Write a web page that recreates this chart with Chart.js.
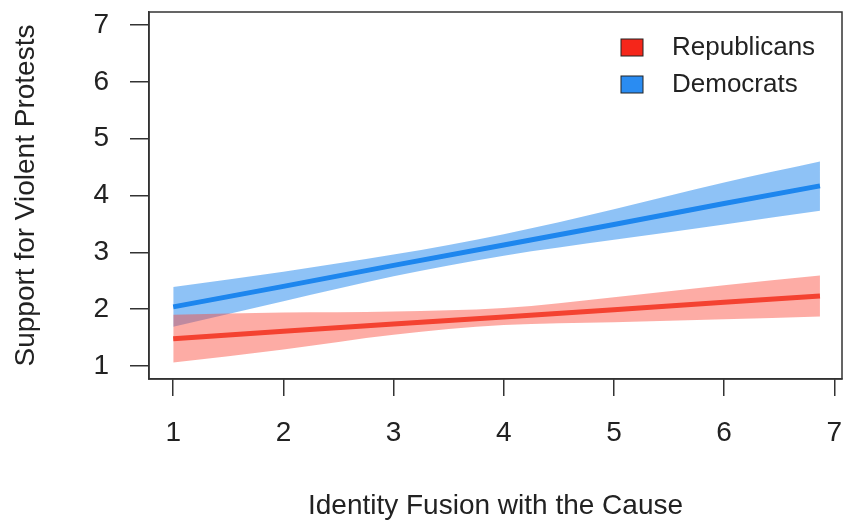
<!DOCTYPE html>
<html>
<head>
<meta charset="utf-8">
<script src="https://cdn.jsdelivr.net/npm/chart.js@4.4.1/dist/chart.umd.min.js"></script>
<style>
  html, body { margin: 0; padding: 0; background: #fff; }
  #wrap { width: 844px; height: 521px; }
</style>
</head>
<body>
<div id="wrap"><canvas id="chart"></canvas></div>
<script>
// values
const fusion = [1, 2, 3, 4, 5, 6, 6.87]

const repFit = [1.48, 1.61, 1.74, 1.86, 1.99, 2.12, 2.23]
const repUpper = [1.90, 1.94, 1.96, 2.02, 2.21, 2.42, 2.59]
const repLower = [1.06, 1.29, 1.55, 1.72, 1.77, 1.82, 1.87]

const demFit = [2.04, 2.40, 2.77, 3.13, 3.49, 3.86, 4.17]
const demUpper = [2.39, 2.66, 2.96, 3.32, 3.76, 4.23, 4.60]
const demLower = [1.69, 2.14, 2.58, 2.94, 3.22, 3.49, 3.73]

const xTicks = [1, 2, 3, 4, 5, 6, 7]
const yTicks = [1, 2, 3, 4, 5, 6, 7]

const FONT = "'Liberation Sans', Arial, Helvetica, sans-serif"
const INK = '#333'

const pts = (ys) => fusion.map((x, i) => ({ x: x, y: ys[i] }))

const band = (label, ys, fill, color) => ({
  label: label,
  data: pts(ys),
  borderWidth: 0,
  pointRadius: 0,
  backgroundColor: color,
  fill: fill,
  cubicInterpolationMode: 'monotone'
})

const fitLine = (label, ys, color, legendColor) => ({
  label: label,
  data: pts(ys),
  borderColor: color,
  borderWidth: 5,
  pointRadius: 0,
  fill: false,
  legendColor: legendColor
})

// frame around the plot region, R style
const boxPlugin = {
  id: 'box',
  afterDraw (chart) {
    const a = chart.chartArea
    const ctx = chart.ctx
    ctx.save()
    ctx.strokeStyle = INK
    ctx.lineWidth = 1.5
    ctx.strokeRect(a.left, a.top, a.right - a.left, a.bottom - a.top)
    ctx.restore()
  }
}

// legend inside the plot, top right
const insetLegend = {
  id: 'insetLegend',
  afterDraw (chart) {
    const a = chart.chartArea
    const ctx = chart.ctx
    const items = chart.data.datasets.filter(d => d.legendColor)
    ctx.save()
    ctx.font = '26px ' + FONT
    ctx.textBaseline = 'middle'
    items.forEach((d, i) => {
      const y = a.top + 35 + i * 37
      ctx.fillStyle = d.legendColor
      ctx.fillRect(a.left + 472, y - 8, 22, 17)
      ctx.strokeStyle = '#222'
      ctx.lineWidth = 1
      ctx.strokeRect(a.left + 472, y - 8, 22, 17)
      ctx.fillStyle = '#222'
      ctx.fillText(d.label, a.left + 523, y + 1)
    })
    ctx.restore()
  }
}

const axisCommon = {
  type: 'linear',
  grid: {
    display: true,
    drawOnChartArea: false,
    drawTicks: true,
    color: INK,
    lineWidth: 1.5
  },
  border: { display: true, color: INK, width: 1.5 }
}

// keep tick labels from pushing the plot region around
const noOverflow = (s) => {
  s.paddingTop = 0
  s.paddingBottom = 0
  s.paddingLeft = 0
  s.paddingRight = 0
}

new Chart(document.getElementById('chart'), {
  type: 'line',
  data: {
    datasets: [
      band('repUpper', repUpper, '+1', 'rgba(250, 70, 55, 0.45)'),
      band('repLower', repLower, false, 'rgba(250, 70, 55, 0.45)'),
      band('demUpper', demUpper, '+1', 'rgba(30, 134, 238, 0.5)'),
      band('demLower', demLower, false, 'rgba(30, 134, 238, 0.5)'),
      fitLine('Republicans', repFit, '#EF3E2C', '#F5261A'),
      fitLine('Democrats', demFit, '#1C86EE', '#2A8CF2')
    ]
  },
  options: {
    responsive: true,
    maintainAspectRatio: false,
    animation: false,
    layout: { padding: { top: 12, right: 2, left: 0, bottom: 0 } },
    plugins: {
      legend: { display: false },
      tooltip: { enabled: false }
    },
    scales: {
      x: {
        ...axisCommon,
        min: 0.78,
        max: 7.07,
        afterBuildTicks: (s) => { s.ticks = xTicks.map(v => ({ value: v })) },
        afterFit: (s) => { s.height = 142; noOverflow(s) },
        grid: { ...axisCommon.grid, tickLength: 17 },
        ticks: { color: '#222', padding: 20, font: { family: FONT, size: 28 } },
        title: {
          display: true,
          text: 'Identity Fusion with the Cause',
          color: '#222',
          font: { family: FONT, size: 28 },
          padding: { top: 0, bottom: -2 }
        }
      },
      y: {
        ...axisCommon,
        min: 0.77,
        max: 7.23,
        afterBuildTicks: (s) => { s.ticks = yTicks.map(v => ({ value: v })) },
        afterFit: (s) => { s.width = 149; noOverflow(s) },
        grid: { ...axisCommon.grid, tickLength: 19 },
        ticks: { color: '#222', padding: 21, font: { family: FONT, size: 28 } },
        title: {
          display: true,
          text: 'Support for Violent Protests',
          color: '#222',
          font: { family: FONT, size: 28 },
          padding: { top: 9, bottom: 0 }
        }
      }
    }
  },
  plugins: [boxPlugin, insetLegend]
})
</script>
</body>
</html>
